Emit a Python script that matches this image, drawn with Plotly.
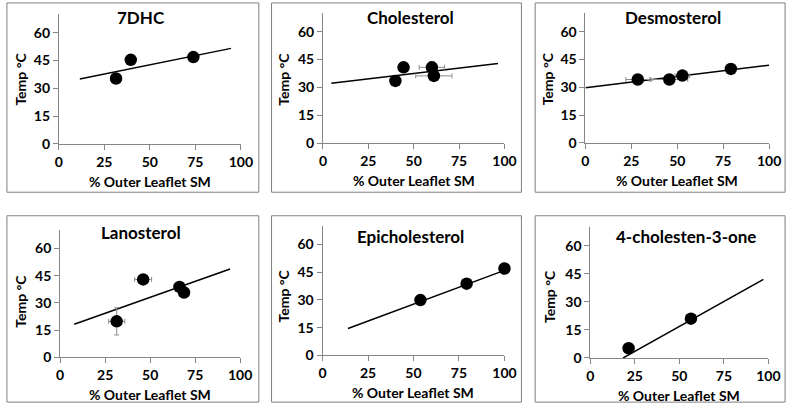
import plotly.graph_objects as go

W, H = 800, 415

# ---------------- data ----------------
titles = ["7DHC", "Cholesterol", "Desmosterol", "Lanosterol", "Epicholesterol", "4-cholesten-3-one"]

x_7dhc = [31.4, 39.5, 73.9]
y_7dhc = [35.3, 45.4, 46.9]
xerr_7dhc = [0, 0, 0]
yerr_7dhc = [0, 0, 0]
trend_x_7dhc = [11.5, 94.6]
trend_y_7dhc = [35.0, 51.6]

x_chol = [39.9, 44.4, 60.0, 61.1]
y_chol = [33.5, 40.8, 40.8, 36.2]
xerr_chol = [0, 0, 7.0, 10.0]
yerr_chol = [0, 0, 3.0, 1.0]
trend_x_chol = [4.6, 96.4]
trend_y_chol = [32.2, 42.9]

x_desmo = [28.5, 45.7, 52.8, 79.2]
y_desmo = [34.2, 34.2, 36.3, 39.9]
xerr_desmo = [6.5, 10.0, 4.0, 1.5]
yerr_desmo = [0, 0, 0, 0]
trend_x_desmo = [0, 100]
trend_y_desmo = [29.8, 41.9]

x_lano = [31.4, 46.1, 66.3, 68.8]
y_lano = [19.8, 42.9, 38.8, 35.7]
xerr_lano = [4.5, 4.7, 3.0, 1.5]
yerr_lano = [7.5, 0.5, 1.0, 2.0]
trend_x_lano = [7.8, 94.4]
trend_y_lano = [18.2, 48.7]

x_epi = [53.8, 79.2, 100.0]
y_epi = [29.9, 38.8, 47.0]
xerr_epi = [1.0, 2.0, 2.0]
yerr_epi = [0.5, 1.0, 3.0]
trend_x_epi = [14.0, 100.0]
trend_y_epi = [14.5, 46.0]

x_chone = [21.5, 56.5]
y_chone = [5.2, 21.0]
xerr_chone = [2.0, 2.0]
yerr_chone = [1.5, 1.0]
trend_x_chone = [18.4, 97.2]
trend_y_chone = [0.0, 42.0]

x_ticks = [0, 25, 50, 75, 100]
y_ticks = [0, 15, 30, 45, 60]
x_title = "% Outer Leaflet SM"
y_title = "Temp °C"

series = [
    (x_7dhc, y_7dhc, xerr_7dhc, yerr_7dhc, trend_x_7dhc, trend_y_7dhc),
    (x_chol, y_chol, xerr_chol, yerr_chol, trend_x_chol, trend_y_chol),
    (x_desmo, y_desmo, xerr_desmo, yerr_desmo, trend_x_desmo, trend_y_desmo),
    (x_lano, y_lano, xerr_lano, yerr_lano, trend_x_lano, trend_y_lano),
    (x_epi, y_epi, xerr_epi, yerr_epi, trend_x_epi, trend_y_epi),
    (x_chone, y_chone, xerr_chone, yerr_chone, trend_x_chone, trend_y_chone),
]

# ---------------- layout (pixels) ----------------
# plot areas: (x_left, x_right, y_top(=70), y_bottom(=0))
areas = [
    (56, 241.7, 14.6, 146.7),
    (325.5, 510.7, 13.3, 146.0),
    (593.3, 780.7, 13.4, 145.7),
    (57.3, 241.0, 234.8, 364.3),
    (325.0, 510.7, 230.5, 362.3),
    (598.3, 780.0, 231.5, 365.0),
]
borders = [
    (3, 260, 3, 196), (273, 528, 3, 196), (542, 797, 3, 196),
    (3, 260, 220, 410), (273, 528, 220, 410), (542, 797, 220, 410),
]
title_pos = [(139.5, 18), (415, 18), (682.5, 18), (140, 237), (415, 241), (696, 241)]
ytitle_pos = [(16.5, 81), (285, 81), (555, 80), (16, 307), (285, 302), (556, 302)]

FONT = "Lato"
GREY = "#868686"


def px(x):
    return x / W


def py(y):
    return 1 - y / H


fig = go.Figure()
annotations = []
shapes = []

for i, (xs, ys, xe, ye, tx, ty) in enumerate(series):
    n = i + 1
    xa = "x" if n == 1 else f"x{n}"
    ya = "y" if n == 1 else f"y{n}"
    fig.add_trace(go.Scatter(
        x=tx, y=ty, mode="lines", line=dict(color="black", width=1.5),
        xaxis=xa, yaxis=ya, showlegend=False, hoverinfo="skip"))
    fig.add_trace(go.Scatter(
        x=xs, y=ys, mode="markers",
        marker=dict(color="black", size=12.5),
        error_x=dict(type="data", array=xe, color="#8c8c8c", thickness=1, width=2.5),
        error_y=dict(type="data", array=ye, color="#8c8c8c", thickness=1, width=2.5),
        xaxis=xa, yaxis=ya, showlegend=False, cliponaxis=False))

    xl, xr, yt, yb = areas[i]
    axcommon = dict(showgrid=False, zeroline=False, showline=True, linecolor=GREY,
                    linewidth=1, ticks="outside", tickcolor=GREY, ticklen=5, tickwidth=1,
                    tickfont=dict(family=FONT, size=14, color="black", weight="bold"))
    fig.layout[f"xaxis{'' if n == 1 else n}"] = dict(
        domain=[px(xl), px(xr)], range=[0, 100], tickvals=x_ticks, anchor=ya,
        **axcommon)
    fig.layout[f"yaxis{'' if n == 1 else n}"] = dict(
        domain=[py(yb), py(yt)], range=[0, 70], tickvals=y_ticks, anchor=xa,
        **axcommon)

    bl, br, bt, bb = borders[i]
    shapes.append(dict(type="rect", xref="paper", yref="paper",
                       x0=px(bl), x1=px(br), y0=py(bb), y1=py(bt),
                       line=dict(color="#7f7f7f", width=1)))

    tx_, ty_ = title_pos[i]
    annotations.append(dict(text=f"<b>{titles[i]}</b>", xref="paper", yref="paper",
                            x=px(tx_), y=py(ty_), xanchor="center", yanchor="middle",
                            showarrow=False, font=dict(family=FONT, size=17, color="black")))
    annotations.append(dict(text=f"<b>{x_title}</b>", xref="paper", yref="paper",
                            x=px((xl + xr) / 2), y=py(yb + 38), xanchor="center",
                            yanchor="middle", showarrow=False,
                            font=dict(family=FONT, size=14, color="black")))
    yx, yy = ytitle_pos[i]
    annotations.append(dict(text=f"<b>{y_title}</b>", xref="paper", yref="paper",
                            x=px(yx), y=py(yy), xanchor="center", yanchor="middle",
                            textangle=-90, showarrow=False,
                            font=dict(family=FONT, size=14, color="black")))

fig.update_layout(
    width=W, height=H, margin=dict(l=0, r=0, t=0, b=0),
    paper_bgcolor="white", plot_bgcolor="white",
    annotations=annotations, shapes=shapes, showlegend=False,
)

fig.write_html("out.html", config={"displayModeBar": False},
               post_script="document.body.style.margin='0';document.body.style.overflow='hidden';")
